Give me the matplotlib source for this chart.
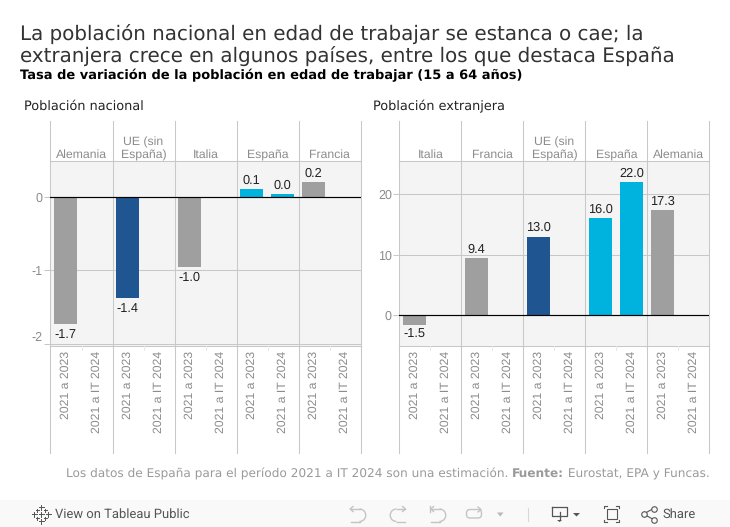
import matplotlib
matplotlib.use("Agg")
import matplotlib.pyplot as plt
from matplotlib.patches import Rectangle, Arc, FancyBboxPatch

plt.rcParams["text.hinting"] = "no_hinting"

W, H = 730, 527

TITLE = "La población nacional en edad de trabajar se estanca o cae; la\nextranjera crece en algunos países, entre los que destaca España"
SUBTITLE = "Tasa de variación de la población en edad de trabajar (15 a 64 años)"
FOOT_A = "Los datos de España para el período 2021 a IT 2024 son una estimación. "
FOOT_B = "Fuente:"
FOOT_C = " Eurostat, EPA y Funcas."

periods = ["2021 a 2023", "2021 a IT 2024"]

nat_title = "Población nacional"
nat_countries = ["Alemania", "UE (sin\nEspaña)", "Italia", "España", "Francia"]
nat_2023 = [-1.735, -1.38, -0.96, 0.11, 0.205]
nat_2024 = [None, None, None, 0.04, None]
nat_lab_2023 = ["-1.7", "-1.4", "-1.0", "0.1", "0.2"]
nat_lab_2024 = ["", "", "", "0.0", ""]
nat_ticks = [0, -1, -2]

ext_title = "Población extranjera"
ext_countries = ["Italia", "Francia", "UE (sin\nEspaña)", "España", "Alemania"]
ext_2023 = [-1.5, 9.4, 13.0, 16.0, 17.3]
ext_2024 = [None, None, None, 22.0, None]
ext_lab_2023 = ["-1.5", "9.4", "13.0", "16.0", "17.3"]
ext_lab_2024 = ["", "", "", "22.0", ""]
ext_ticks = [0, 10, 20]

GREY, NAVY, CYAN = "#9f9f9f", "#1f5591", "#00b3de"
LINE = "#c8c8c8"
LW = 0.75
TICK = "#8c8c8c"
SANS = "Liberation Sans"

fig = plt.figure(figsize=(W / 100, H / 100), dpi=100, facecolor="white")


def box(x0, y0, x1, y1, **kw):
    return fig.add_axes([x0 / W, 1 - y1 / H, (x1 - x0) / W, (y1 - y0) / H], **kw)


def colour(name):
    if name == "España":
        return CYAN
    if name.startswith("UE"):
        return NAVY
    return GREY


def panel(x0, title, title_x, countries, v23, v24, l23, l24, ticks, ylim):
    x1 = x0 + 310
    top, hdr, pb, bottom = 121, 161, 345.5, 453
    fig.text(title_x / W, 1 - 110 / H, title, fontsize=9.3, family="DejaVu Sans",
             color="#222222", va="baseline", ha="left")

    ax = box(x0, hdr, x1, pb)
    ax.set_facecolor("#f4f4f4")
    ax.set_xlim(0, 10)
    ax.set_ylim(*ylim)
    for s in ax.spines.values():
        s.set_visible(False)
    ax.set_xticks([])
    ax.set_yticks(ticks)
    ax.set_yticklabels([f"{t:d}" for t in ticks], fontsize=9, family=SANS, color=TICK)
    ax.tick_params(axis="y", length=4, width=LW, color=LINE, pad=1.5)
    for lab, t in zip(ax.get_yticklabels(), ticks):
        if t == -2:
            lab.set_va("bottom")
    ax.grid(axis="y", color=LINE, lw=LW, zorder=1)
    ax.set_axisbelow(True)
    ax.axhline(0, color="black", lw=0.85, zorder=4)
    for i in range(6):
        ax.plot([2 * i, 2 * i], ylim, color=LINE, lw=LW, zorder=1, clip_on=False)

    for i, name in enumerate(countries):
        c = colour(name)
        for j, (val, lab) in enumerate(((v23[i], l23[i]), (v24[i], l24[i]))):
            if val is None:
                continue
            xc = 2 * i + j + 0.484
            ax.bar(xc, val, width=0.74, color=c, zorder=3)
            ax.annotate(lab, (xc, val), xytext=(0, 2 if val > 0 else -3),
                        textcoords="offset points", ha="center",
                        va="bottom" if val > 0 else "top",
                        fontsize=9.2, family=SANS, color="#222222", zorder=5)

    head = box(x0, top, x1, hdr)
    head.set_xlim(0, 10)
    head.set_ylim(0, 1)
    head.axis("off")
    for i, name in enumerate(countries):
        head.text(2 * i + 1, 0.005, name, ha="center", va="bottom", fontsize=8.8,
                  family=SANS, color=TICK, linespacing=1.15)
        head.plot([2 * i, 2 * i], [0, 1], color=LINE, lw=LW, clip_on=False)
    head.plot([10, 10], [0, 1], color=LINE, lw=LW, clip_on=False)
    head.plot([0, 10], [0, 0], color=LINE, lw=LW, clip_on=False)

    foot = box(x0, pb, x1, bottom)
    foot.set_xlim(0, 10)
    foot.set_ylim(1, 0)
    foot.axis("off")
    foot.plot([0, 10], [0, 0], color=LINE, lw=LW, clip_on=False)
    for i in range(5):
        for j, p in enumerate(periods):
            foot.text(2 * i + j + 0.484, 0.05, p, rotation=90, ha="center", va="top",
                      fontsize=8.8, family=SANS, color=TICK)
        foot.plot([2 * i, 2 * i], [0, 1], color=LINE, lw=LW, clip_on=False)
        foot.plot([2 * i + 1] * 2, [0, 0.04], color="#e8e8e8", lw=0.7)
    foot.plot([10, 10], [0, 1], color=LINE, lw=LW, clip_on=False)


panel(50.5, nat_title, 24, nat_countries, nat_2023, nat_2024, nat_lab_2023, nat_lab_2024,
      nat_ticks, (-2.027, 0.493))
panel(399.5, ext_title, 373, ext_countries, ext_2023, ext_2024, ext_lab_2023, ext_lab_2024,
      ext_ticks, (-4.96, 25.45))

fig.text(20 / W, 1 - 45 / H, TITLE, fontsize=14.3, family="DejaVu Sans", color="#333333",
         va="center", ha="left", linespacing=1.14)
fig.text(20 / W, 1 - 75 / H, SUBTITLE, fontsize=9.4, family="DejaVu Sans", weight="bold",
         color="black", va="center", ha="left")

# footnote, right aligned, assembled from three runs
r = fig.canvas.get_renderer()
x = 710
for s, w in ((FOOT_C, "normal"), (FOOT_B, "bold"), (FOOT_A, "normal")):
    s2 = s.replace(" ", "\u00a0")
    t = fig.text(x / W, 1 - 477 / H, s2, fontsize=8.7, family="DejaVu Sans", weight=w,
                 color="#9a9a9a", va="baseline", ha="right")
    x -= t.get_window_extent(r).width

# toolbar
bar = box(0, 500, W, H)
bar.set_xlim(0, W)
bar.set_ylim(H, 500)
bar.axis("off")
bar.add_patch(Rectangle((0, 500), W, 27, color="#f9f9f9", lw=0))
ic = "#555555"
off = "#c4c4c4"
for dx, dy in ((0, -7), (0, 7), (-7, 0), (7, 0), (-4, -4), (4, -4), (-4, 4), (4, 4), (0, 0)):
    s = 2.5 if dx == 0 or dy == 0 else 1.5
    bar.plot([41 + dx - s, 41 + dx + s], [514 + dy] * 2, color=ic, lw=0.7)
    bar.plot([41 + dx] * 2, [514 + dy - s, 514 + dy + s], color=ic, lw=0.7)
bar.text(55, 514, "View on Tableau Public", fontsize=9.35, family="Roboto", color="#555555", va="center")


def curl(xa, xb, side):
    """one undo/redo glyph: flat runs joined by a half-round"""
    bar.plot([xa, xb], [509, 509], color=off, lw=1)
    bar.plot([xa, xb], [521.5, 521.5], color=off, lw=1)
    th = (-90, 90) if side > 0 else (90, 270)
    bar.add_patch(Arc((xb, 515.25), 12.5, 12.5, theta1=th[0], theta2=th[1], color=off, lw=1))


curl(351, 359.5, 1)
bar.plot([353, 350, 353], [506.5, 509, 511.5], color=off, lw=1)
curl(405, 396.5, -1)
bar.plot([402.5, 405.5, 402.5], [506.5, 509, 511.5], color=off, lw=1)
curl(431, 439.5, 1)
bar.plot([433.5, 431, 433.5], [506.5, 509, 511.5], color=off, lw=1)
bar.plot([430, 430], [505.5, 512], color=off, lw=1)
bar.add_patch(FancyBboxPatch((466.5, 509.5), 15, 8.5, boxstyle="round,pad=0,rounding_size=3.5",
                             facecolor="none", edgecolor=off, lw=1))
bar.plot([478, 481, 478], [507, 509.5, 512], color=off, lw=1)
bar.fill([497, 503.5, 500.2], [512.5, 512.5, 516.5], color="#b8b8b8", lw=0)
bar.plot([528, 528], [508, 521], color="#d8d8d8", lw=0.8)
bar.plot([552, 552, 567, 567, 552], [507, 516, 516, 507, 507], color=ic, lw=0.9)
bar.plot([559.5, 559.5], [512, 520], color=ic, lw=0.9)
bar.fill([557, 562, 559.5], [520, 520, 522], color=ic, lw=0)
bar.fill([573, 580, 576.5], [513, 513, 516.5], color=ic, lw=0)
bar.add_patch(Rectangle((606.5, 509), 10, 9.5, facecolor="none", edgecolor=ic, lw=0.8))
for xa, xb in ((603.5, 607), (619, 615.5)):
    for ya, yb in ((505.5, 507.5), (522, 520)):
        bar.plot([xb, xa, xa], [ya, ya, yb], color=ic, lw=0.8)
bar.plot([653.5, 643.5, 653.5], [508.5, 514, 519.5], color=ic, lw=0.8)
bar.scatter([643.5, 653.5, 653.5], [514, 508.5, 519.5], s=16, facecolor="#f9f9f9",
            edgecolor=ic, lw=0.8, zorder=3)
bar.text(662.5, 514, "Share", fontsize=9.35, family="Roboto", color="#555555", va="center")

fig.savefig("out.png", dpi=100, facecolor="white")
